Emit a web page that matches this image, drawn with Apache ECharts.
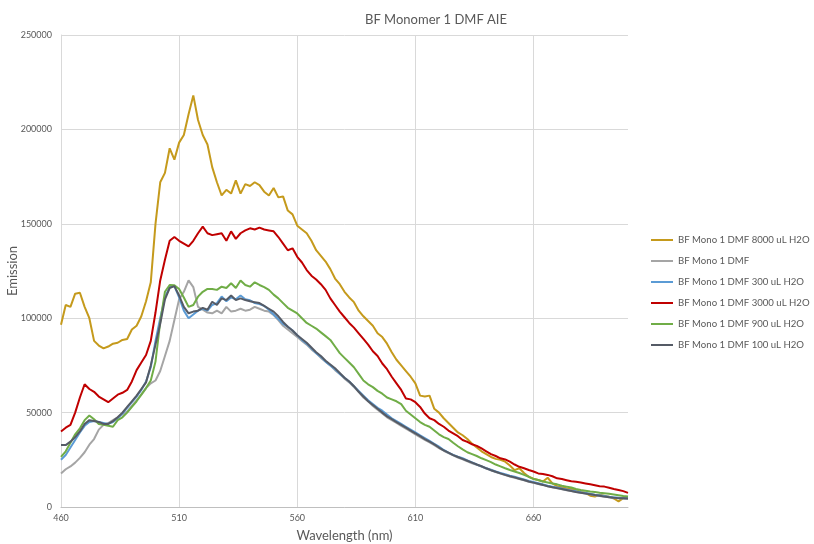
<!DOCTYPE html>
<html>
<head>
<meta charset="utf-8">
<script src="https://cdn.jsdelivr.net/npm/echarts@6/dist/echarts.min.js"></script>
<style>
  html, body { margin: 0; padding: 0; background: #fff; }
  #chart { width: 814px; height: 544px; }
</style>
</head>
<body>
<div id="chart"></div>
<script>
// wavelength categories, 2 nm steps
const wavelengths = [
  460, 462, 464, 466, 468, 470, 472, 474, 476, 478,
  480, 482, 484, 486, 488, 490, 492, 494, 496, 498,
  500, 502, 504, 506, 508, 510, 512, 514, 516, 518,
  520, 522, 524, 526, 528, 530, 532, 534, 536, 538,
  540, 542, 544, 546, 548, 550, 552, 554, 556, 558,
  560, 562, 564, 566, 568, 570, 572, 574, 576, 578,
  580, 582, 584, 586, 588, 590, 592, 594, 596, 598,
  600, 602, 604, 606, 608, 610, 612, 614, 616, 618,
  620, 622, 624, 626, 628, 630, 632, 634, 636, 638,
  640, 642, 644, 646, 648, 650, 652, 654, 656, 658,
  660, 662, 664, 666, 668, 670, 672, 674, 676, 678,
  680, 682, 684, 686, 688, 690, 692, 694, 696, 698,
  700
];

const yTicks = [0, 50000, 100000, 150000, 200000, 250000];

const h2o8000 = [
  96500, 107000, 106000, 113000, 113500, 106000, 100000, 88000, 85500, 84000,
  85000, 86500, 87000, 88500, 89000, 94000, 96000, 101000, 109000, 119000,
  150000, 172000, 177000, 190000, 184000, 193000, 197000, 208000, 218000, 205000,
  197000, 192000, 180000, 172000, 165000, 168000, 166000, 173000, 166000, 171000,
  170000, 172000, 170500, 167000, 165000, 169000, 164000, 164500, 157000, 155000,
  149000, 147000, 145000, 141000, 136000, 133000, 130000, 126000, 121000, 118000,
  114000, 111000, 108500, 104000, 101000, 98500, 96000, 92000, 90000, 86500,
  82000, 78000, 75000, 72000, 69000, 65500, 59000, 58500, 59000, 52000,
  50000, 47000, 44500, 42000, 39500, 38000, 36000, 33500, 31500, 29500,
  28000, 26500, 25500, 25000, 24000, 22000, 19500, 20500, 18000, 16000,
  15000, 14300, 13500, 15500, 12500, 11000, 10500, 10000, 9500, 9000,
  8000, 7500, 6000, 5500, 6500, 6000, 5500, 4500, 3000, 4700,
  4500
];

const dmf = [
  17800, 20000, 21500, 23500, 26000, 29000, 33000, 36000, 41000, 43500,
  44500, 46000, 47500, 49000, 50500, 53500, 56500, 59500, 63000, 65500,
  67000, 72000, 80000, 88000, 99000, 110000, 114000, 120000, 116500, 106000,
  104500, 103000, 102600, 104000, 102600, 106000, 103500, 104000, 105000, 104000,
  104500, 106000, 105000, 104000, 103500, 101700, 99000, 96000, 94000, 92000,
  90000, 88000, 86000, 83500, 81500, 79000, 77000, 75000, 72500, 70500,
  68000, 66000, 63500, 61000, 58000, 56000, 53500, 51500, 49500, 47500,
  46000, 44500, 43000, 41500, 40000, 38500, 37000, 35500, 34200, 32800,
  31200, 29800, 28500, 27300, 26200, 25300, 24200, 23200, 22300, 21400,
  20300, 19400, 18500, 17700, 16900, 16200, 15500, 14800, 14100, 13400,
  12800, 12200, 11600, 11000, 10400, 9900, 9400, 8900, 8400, 7900,
  7500, 7100, 6700, 6200, 5800, 5400, 5100, 4800, 4600, 4500,
  4400
];

const h2o300 = [
  25000, 27500, 31500, 35500, 39500, 43000, 45000, 45500, 45000, 44500,
  44000, 45000, 47000, 49500, 52500, 55500, 58500, 62000, 66500, 74000,
  88000, 100000, 111000, 116500, 117000, 111000, 104000, 100000, 102000, 104000,
  105000, 104000, 107000, 108000, 111500, 109000, 111000, 110000, 112000, 110000,
  109500, 108000, 107500, 106500, 104500, 102000, 99500, 97000, 95500, 93500,
  91000, 88500, 86500, 84000, 81500, 79500, 77000, 75000, 73000, 70500,
  68500, 66500, 64000, 61500, 59000, 56500, 54500, 52500, 51000, 49000,
  47000, 45500, 44000, 42500, 41000, 39500, 38000, 36500, 35000, 33500,
  32000, 30200, 28800, 27600, 26600, 25800, 24700, 23600, 22500, 21500,
  20500, 19700, 18800, 18000, 17300, 16600, 16000, 15300, 14600, 13800,
  13200, 12600, 12000, 11300, 10800, 10300, 9800, 9300, 8800, 8300,
  7800, 7400, 7000, 6500, 6200, 5800, 5400, 5100, 4900, 4700,
  4600
];

const h2o3000 = [
  40000, 42000, 43500, 50000, 58000, 65000, 62500, 61000, 58500, 57000,
  55500, 57500, 59500, 60500, 62000, 66500, 72500, 76500, 80500, 88000,
  103000, 120000, 131000, 141000, 143000, 141000, 139500, 138000, 141000, 145000,
  148500, 145000, 144000, 144500, 145000, 141000, 146000, 142000, 145000, 146500,
  147600, 147000, 148000, 147000, 146500, 146000, 143000, 139500, 136000, 137000,
  132500, 129500, 125500, 122500, 120500, 118000, 115000, 110500, 107000, 103500,
  100500, 97500, 95000, 92000, 89000, 86000, 82500, 80000, 76000, 73000,
  69000, 65500, 62000, 57500, 57000, 55500, 53000, 49500, 47000, 46000,
  44000, 42500, 40500, 39000, 37500, 35500, 34500, 33200, 32400, 31000,
  29500, 28000, 27000, 25800, 25200, 24000, 22500, 21300, 20500, 19600,
  18800, 17800, 17500, 17000, 16300, 15200, 14800, 14200, 13600, 13400,
  13000, 12500, 12000, 11500, 11000, 10800, 10200, 9500, 9000, 8400,
  7500
];

const h2o900 = [
  26600, 29500, 34000, 38500, 41700, 46000, 48500, 46500, 44000, 43500,
  43000, 42500, 46000, 47500, 50000, 53000, 56000, 59500, 63000, 67000,
  77000, 98000, 114000, 117600, 117500, 115500, 111000, 106000, 107000, 111400,
  114000, 115500, 115500, 115000, 116700, 116000, 118500, 116000, 120000, 117600,
  116700, 119000, 117600, 116500, 115000, 112500, 110500, 108000, 105500, 104000,
  102500, 100000, 97500, 96000, 94500, 92500, 90500, 88500, 85000, 81500,
  79000, 76500, 74000, 70500, 67000, 65000, 63500, 61500, 60000, 58000,
  57000, 56000, 54500, 51000, 49000, 47000, 45000, 43500, 42500, 40500,
  38500, 37000, 36000, 34000, 32200, 30500, 29000, 28000, 27000, 25800,
  24800, 23800, 22500, 21500, 20500, 19600, 18800, 18000, 17000, 16000,
  14800, 14300, 13500, 13000, 12500, 12000, 11300, 10800, 10300, 9500,
  9000, 8600, 8200, 8000, 7600, 7300, 7000, 6600, 6200, 5800,
  5500
];

const h2o100 = [
  32800, 32800, 34600, 37000, 40000, 44000, 46000, 45500, 45000, 44000,
  44000, 45500, 47500, 50000, 53000, 56000, 59000, 62500, 66000, 75000,
  86000, 97000, 110000, 116000, 117000, 112000, 106000, 102600, 103500, 104000,
  105500, 104500, 108700, 107000, 110500, 109600, 112000, 109600, 110500, 109600,
  109000, 108500, 108000, 106500, 105000, 103500, 101000, 98000, 95500, 93500,
  91000, 89000, 87000, 84500, 82000, 80000, 77500, 75500, 73500, 71000,
  68500, 66500, 64000, 61000, 58500, 56000, 54000, 52000, 50000, 48000,
  46500, 45000, 43500, 42000, 40500, 39000, 37500, 36000, 34600, 33200,
  31500, 30000, 28800, 27500, 26500, 25500, 24500, 23500, 22500, 21600,
  20500, 19500, 18700, 17800, 17000, 16300, 15700, 15000, 14300, 13500,
  12900, 12300, 11700, 11000, 10500, 10000, 9500, 9000, 8500, 8000,
  7600, 7200, 6800, 6300, 5900, 5500, 5200, 4900, 4700, 4600,
  4500
];

const seriesNames = [
  'BF Mono 1 DMF 8000 uL H2O',
  'BF Mono 1 DMF',
  'BF Mono 1 DMF 300 uL H2O',
  'BF Mono 1 DMF 3000 uL H2O',
  'BF Mono 1 DMF 900 uL H2O',
  'BF Mono 1 DMF 100 uL H2O'
];
const seriesData = [h2o8000, dmf, h2o300, h2o3000, h2o900, h2o100];
const colors = ['#C59A1C', '#A5A5A5', '#5B9BD5', '#C00000', '#70AD47', '#555B66'];

const textColor = '#595959';
const font = 'Lato';

const chart = echarts.init(document.getElementById('chart'));

const option = {
    animation: false,
    backgroundColor: '#fff',
    title: {
        text: 'BF Monomer 1 DMF AIE',
        left: 360,
        top: 8,
        textStyle: { fontFamily: font, fontSize: 13, fontWeight: 'normal', color: textColor }
    },
    grid: { left: 61, right: 186, top: 35, bottom: 37, outerBoundsMode: 'none', containLabel: false },
    legend: {
        orient: 'vertical',
        left: 651,
        top: 235,
        padding: 0,
        icon: 'rect',
        itemWidth: 22,
        itemHeight: 2,
        itemGap: 11,
        data: seriesNames,
        textStyle: { fontFamily: font, fontSize: 9.6, color: textColor }
    },
    xAxis: {
        type: 'category',
        data: wavelengths,
        boundaryGap: false,
        name: 'Wavelength (nm)',
        nameLocation: 'middle',
        nameGap: 22,
        nameMoveOverlap: false,
        nameTextStyle: { fontFamily: font, fontSize: 13, color: textColor },
        axisLine: { lineStyle: { color: '#BFBFBF' } },
        axisTick: { show: false },
        axisLabel: { interval: 24, fontFamily: font, fontSize: 9, color: textColor, margin: 7 },
        splitLine: { show: true, interval: 24, lineStyle: { color: '#D9D9D9' } }
    },
    yAxis: {
        type: 'value',
        min: yTicks[0],
        max: yTicks[yTicks.length - 1],
        interval: yTicks[1] - yTicks[0],
        name: 'Emission',
        nameLocation: 'middle',
        nameGap: 42,
        nameMoveOverlap: false,
        nameTextStyle: { fontFamily: font, fontSize: 13, color: textColor },
        axisLine: { show: true, lineStyle: { color: '#D9D9D9' } },
        axisTick: { show: false },
        axisLabel: { fontFamily: font, fontSize: 9, color: textColor, margin: 9, formatter: v => String(v) },
        splitLine: { lineStyle: { color: '#D9D9D9' } }
    },
    series: seriesNames.map((name, i) => ({
        name: name,
        type: 'line',
        data: seriesData[i],
        showSymbol: false,
        symbol: 'none',
        color: colors[i],
        lineStyle: { width: 2, color: colors[i] }
    }))
};

chart.setOption(option);
</script>
</body>
</html>
